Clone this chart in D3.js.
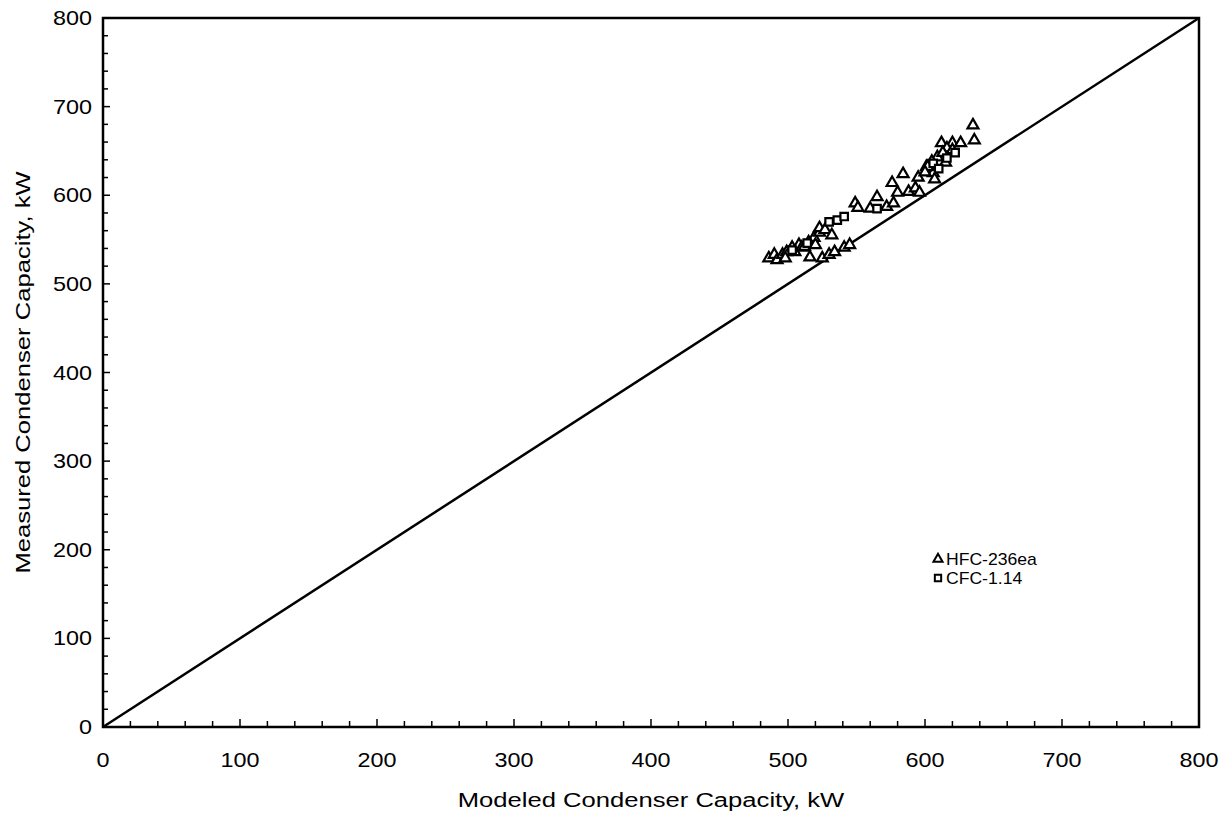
<!DOCTYPE html>
<html>
<head>
<meta charset="utf-8">
<script src="https://cdn.jsdelivr.net/npm/d3@7"></script>
<style>
  body { margin: 0; background: #fff; }
  text { font-family: "Liberation Sans", Arial, sans-serif; fill: #000; }
</style>
</head>
<body>
<script>
// HFC-236ea points [modeled, measured]
const hfcPoints = [
  [486,529],[490,533],[492,527],[496,533],[499,536],[498,529],[503,541],[505,536],
  [508,544],[510,541],[512,542],[516,530],[515,547],[519,552],[520,544],[523,558],
  [523,563],[527,561],[532,555],[525,529],[530,533],[534,536],[541,541],[545,544],
  [549,591],[551,586],[565,598],[560,585],[572,587],[577,591],[576,614],[584,624],
  [580,603],[588,604],[593,608],[595,620],[596,603],[601,632],[606,625],[607,618],
  [609,643],[605,638],[612,659],[620,659],[626,659],[616,653],[620,651],[613,648],
  [615,637],[602,632],[600,626],[635,679],[636,662]
];
// CFC-114 points
const cfcPoints = [
  [530,570],[536,572],[541,576],[565,585],[514,546],[503,538],
  [606,636],[616,642],[622,648],[610,630]
];
const xTicks = [0,100,200,300,400,500,600,700,800];
const yTicks = [0,100,200,300,400,500,600,700,800];
const legendLabels = ["HFC-236ea", "CFC-1.14"];

const width = 1222, height = 816;
const margin = {top: 18, right: 23, bottom: 89, left: 103};

const svg = d3.select("body").append("svg")
  .attr("width", width)
  .attr("height", height);

const x = d3.scaleLinear().domain([0, 800]).range([margin.left, width - margin.right]);
const y = d3.scaleLinear().domain([0, 800]).range([height - margin.bottom, margin.top]);

// the scanned lettering is a bit wider than plain Arial
const stretch = 1.17;

// minor ticks every 20
const minor = d3.range(0, 801, 20);

// frame
svg.append("rect")
  .attr("x", x(0)).attr("y", y(800))
  .attr("width", x(800) - x(0)).attr("height", y(0) - y(800))
  .attr("fill", "none").attr("stroke", "#000").attr("stroke-width", 2.5);

// x axis ticks (inward)
svg.append("g").selectAll("line")
  .data(minor)
  .enter().append("line")
  .attr("x1", d => x(d)).attr("x2", d => x(d))
  .attr("y1", y(0)).attr("y2", d => y(0) - (d % 100 === 0 ? 8 : 6))
  .attr("stroke", "#000").attr("stroke-width", 1.5);

svg.append("g").selectAll("line")
  .data(minor)
  .enter().append("line")
  .attr("y1", d => y(d)).attr("y2", d => y(d))
  .attr("x1", x(0)).attr("x2", d => x(0) + (d % 100 === 0 ? 7 : 5))
  .attr("stroke", "#000").attr("stroke-width", 1.5);

// tick labels
svg.append("g").selectAll("text")
  .data(xTicks)
  .enter().append("text")
  .attr("transform", d => "translate(" + x(d) + "," + (y(0) + 40) + ") scale(" + stretch + ",1)")
  .attr("text-anchor", "middle")
  .attr("font-size", "20px")
  .text(d => d);

svg.append("g").selectAll("text")
  .data(yTicks)
  .enter().append("text")
  .attr("transform", d => "translate(" + (x(0) - 11) + "," + (y(d) + 7) + ") scale(" + stretch + ",1)")
  .attr("text-anchor", "end")
  .attr("font-size", "20px")
  .text(d => d);

// axis titles
svg.append("text")
  .attr("transform", "translate(" + ((x(0) + x(800)) / 2) + ",807) scale(" + (stretch + 0.05) + ",1)")
  .attr("text-anchor", "middle")
  .attr("font-size", "21px")
  .text("Modeled Condenser Capacity, kW");

svg.append("text")
  .attr("transform", "translate(30," + ((y(0) + y(800)) / 2) + ") rotate(-90) scale(" + (stretch + 0.05) + ",1)")
  .attr("text-anchor", "middle")
  .attr("font-size", "21px")
  .text("Measured Condenser Capacity, kW");

// 1:1 line
svg.append("line")
  .attr("x1", x(0)).attr("y1", y(0))
  .attr("x2", x(800)).attr("y2", y(800))
  .attr("stroke", "#000").attr("stroke-width", 2.5);

const tri = d3.symbol().type(d3.symbolTriangle).size(52);
const sq = d3.symbol().type(d3.symbolSquare).size(56);

svg.append("g").selectAll("path")
  .data(hfcPoints)
  .enter().append("path")
  .attr("d", tri)
  .attr("transform", d => "translate(" + x(d[0]) + "," + y(d[1]) + ")")
  .attr("fill", "#fff").attr("stroke", "#000").attr("stroke-width", 2.2);

svg.append("g").selectAll("path")
  .data(cfcPoints)
  .enter().append("path")
  .attr("d", sq)
  .attr("transform", d => "translate(" + x(d[0]) + "," + y(d[1]) + ")")
  .attr("fill", "#fff").attr("stroke", "#000").attr("stroke-width", 2.2);

// legend
const legend = svg.append("g").attr("transform", "translate(938,559)");
legend.append("path").attr("d", d3.symbol().type(d3.symbolTriangle).size(36))
  .attr("fill", "#fff").attr("stroke", "#000").attr("stroke-width", 2);
legend.append("path").attr("d", d3.symbol().type(d3.symbolSquare).size(40)).attr("transform", "translate(0,19)")
  .attr("fill", "#fff").attr("stroke", "#000").attr("stroke-width", 2);
legend.selectAll("text")
  .data(legendLabels)
  .enter().append("text")
  .attr("transform", (d, i) => "translate(8," + (i * 19 + 6) + ") scale(1.1,1)")
  .attr("font-size", "16px")
  .text(d => d);
</script>
</body>
</html>
